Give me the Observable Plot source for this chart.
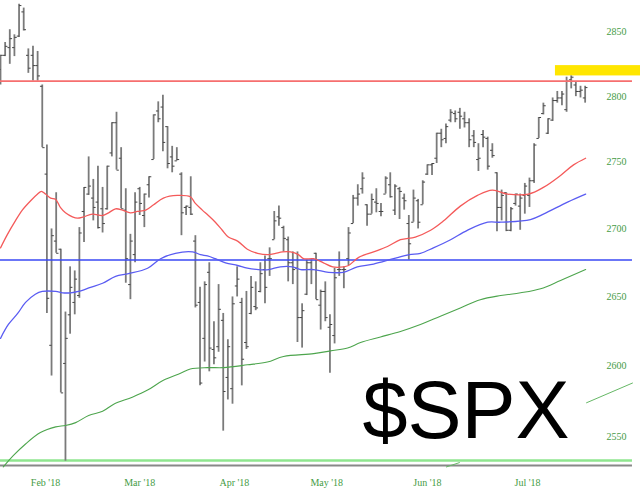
<!DOCTYPE html>
<html><head><meta charset="utf-8">
<style>html,body{margin:0;padding:0;background:#fff}svg{display:block}</style>
<script src="https://cdn.jsdelivr.net/npm/d3@7"></script>
<script src="https://cdn.jsdelivr.net/npm/@observablehq/plot@0.6"></script>
</head><body><div id="chart"></div>
<script>
const highs=[2832,2842,2852,2848,2872,2869,2837,2839,2835,2809,2763,2700,2727,2685,2639,2672,2669,2701,2731,2754,2737,2747,2731,2747,2780,2788,2761,2730,2696,2727,2731,2726,2739,2786,2796,2801,2777,2762,2761,2742,2717,2739,2695,2657,2661,2675,2632,2659,2638,2619,2650,2672,2649,2654,2665,2661,2675,2680,2686,2713,2717,2702,2694,2683,2683,2645,2677,2677,2682,2655,2661,2637,2671,2683,2672,2701,2725,2733,2742,2718,2726,2730,2719,2739,2742,2733,2731,2726,2710,2729,2722,2736,2748,2749,2772,2775,2779,2790,2789,2791,2788,2783,2774,2764,2774,2769,2764,2742,2729,2727,2716,2726,2726,2734,2738,2764,2784,2795,2783,2799,2804,2804,2815,2816,2811,2808,2808];
const lows=[2809,2831,2825,2831,2846,2851,2818,2812,2812,2761,2638,2593,2682,2581,2533,2623,2637,2649,2690,2725,2706,2700,2697,2714,2754,2744,2715,2660,2648,2675,2710,2701,2723,2752,2780,2758,2745,2742,2751,2695,2710,2710,2642,2586,2603,2596,2601,2610,2554,2576,2573,2650,2586,2612,2637,2640,2653,2645,2665,2692,2702,2683,2661,2659,2617,2613,2651,2659,2648,2626,2632,2595,2616,2665,2656,2673,2704,2717,2726,2702,2711,2712,2709,2726,2723,2710,2707,2714,2677,2705,2700,2718,2740,2740,2749,2761,2764,2780,2780,2775,2776,2761,2761,2743,2761,2744,2753,2698,2706,2698,2698,2717,2699,2711,2716,2734,2768,2786,2771,2781,2795,2793,2788,2806,2800,2799,2795];
const opens=[2821,2832,2838,2838,2847,2866,2832,2832,2824,2808,2741,2615,2691,2685,2602,2637,2646,2651,2713,2726,2723,2720,2715,2715,2757,2780,2753,2714,2659,2681,2730,2710,2733,2752,2789,2792,2777,2754,2751,2741,2716,2716,2691,2646,2620,2668,2612,2614,2633,2592,2584,2658,2646,2617,2638,2643,2654,2670,2678,2692,2709,2701,2692,2675,2671,2635,2652,2675,2682,2644,2654,2628,2622,2670,2670,2678,2704,2723,2730,2718,2711,2720,2713,2726,2733,2714,2730,2723,2704,2705,2721,2718,2741,2748,2753,2772,2768,2782,2787,2788,2783,2780,2770,2752,2771,2768,2759,2742,2716,2727,2699,2719,2717,2725,2725,2736,2768,2787,2772,2782,2797,2799,2790,2813,2809,2804,2799];
const closes=[2832,2839,2845,2846,2871,2852,2822,2824,2816,2761,2649,2695,2682,2581,2620,2657,2663,2697,2731,2732,2716,2701,2704,2747,2780,2744,2715,2678,2691,2720,2719,2726,2739,2786,2783,2765,2749,2747,2752,2712,2717,2711,2644,2588,2659,2613,2606,2641,2582,2614,2645,2663,2605,2614,2657,2642,2667,2657,2678,2706,2708,2693,2675,2670,2635,2640,2675,2670,2648,2654,2635,2630,2664,2670,2670,2697,2723,2726,2738,2711,2722,2719,2713,2738,2724,2732,2728,2721,2689,2723,2705,2735,2748,2749,2772,2767,2777,2788,2783,2785,2780,2767,2765,2753,2769,2747,2755,2716,2725,2699,2715,2726,2723,2732,2736,2763,2784,2793,2783,2797,2799,2802,2812,2815,2804,2805,2807];

const redAt=[0,1.5,3.2,4.7,6.5,8,8.8,9.7,10.8,11.9,12.9,14,15.5,16.6,17.9,19.8,22,23.3,24.8,26.3,28,29.5,31.3,33,35.1,38.1,40.9,42,43.5,44.8,46.3,47.8,49.1,51.1,53.2,55.4,57.8,59.3,60.8,62.5,64.2,65.3,67.5,69.6,71.6,73.9,75,77.2,80.4,83.4,86.2,89.4,92.7,95.5,99.1,102.8,106,109.3,113.8,117,120.7,123.5,126.1];
const redMA=[2686,2696,2706,2714,2721,2726,2728,2726,2723,2722,2716,2712,2709,2708,2709,2711,2710,2712,2715,2714,2712,2713,2714,2718,2723,2725,2724,2719,2714,2710,2705,2699,2694,2691,2685,2682,2681,2682,2683,2683,2681,2678,2678,2675,2672,2672,2673,2679,2683,2687,2692,2694,2699,2706,2717,2725,2729,2726,2726,2731,2740,2748,2753];
const blueAt=[0,1.7,3.7,5.4,7.5,9,11.9,13.4,15.1,16.8,19.4,22,24.8,27.6,31.7,34.5,37.7,41.4,43.1,44.6,46.3,48.5,51.1,53.2,55.6,57.8,60.3,62.9,64.7,67.5,70.7,73.9,76.9,80.4,84.7,88.1,90.5,93.3,97,100.6,105,107.8,114.2,117,122.2,126.1];
const blueMA=[2620,2630,2638,2646,2652,2654,2654,2653,2653,2654,2657,2660,2665,2667,2671,2678,2682,2683,2681,2680,2678,2675,2673,2671,2670,2670,2672,2672,2670,2670,2668,2668,2672,2674,2678,2681,2682,2686,2692,2699,2705,2705,2707,2711,2720,2726];
const greenAt=[0.6,2.8,5.4,8.6,11.9,14,16.2,19,22,24.4,28.4,31.7,35.1,38.8,40.9,44.6,48.1,53.2,57.5,61,67.5,71.1,74.8,77.6,81.9,86.2,90.5,94.8,99.1,103.4,107.8,112.1,116.4,120.7,126.1];
const greenMA=[2529,2537,2545,2553,2557,2558,2560,2565,2568,2573,2578,2583,2590,2595,2598,2599,2599,2601,2603,2607,2609,2611,2613,2617,2621,2625,2630,2636,2642,2648,2651,2653,2656,2662,2670];
const trendA=[[96.1,2529],[98.9,2532]];
const trendB=[[126.3,2574],[136.2,2588]];

const yTicks=[2550,2600,2650,2700,2750,2800,2850];
const monthAt=[9.7,30,50.4,70.3,92,113.6];
const monthNames=["Feb '18","Mar '18","Apr '18","May '18","Jun '18","Jul '18"];
const lastIdx=136.2, resistance=2812, support=2677, floorLine=2533.5, baseLine=2530;
const bandTop=2824, bandBottom=2816, bandStart=119.6, bandEnd=137.93;
const title="$SPX";

const idx=highs.map((_,i)=>i);
const zip=(a,b)=>a.map((d,i)=>[d,b[i]]);
const axisFill="#459c45";

const chart=Plot.plot({
  width:640,height:500,marginTop:0,marginRight:0,marginBottom:35,marginLeft:0,
  x:{domain:[0,137.93],axis:null},
  y:{type:"log",domain:[2530,2875],axis:null},
  style:{background:"#fff"},
  marks:[
    Plot.rect([0],{x1:()=>bandStart,x2:()=>bandEnd,y1:()=>bandBottom,y2:()=>bandTop,fill:"#ffe600"}),
    Plot.ruleY([floorLine],{x1:0,x2:lastIdx,stroke:"#8fe68f",strokeWidth:2.6}),
    Plot.ruleY([baseLine],{x1:0,x2:lastIdx,stroke:"#888",strokeWidth:1.8}),
    Plot.line(trendA,{stroke:"#66b866",strokeWidth:1}),
    Plot.line(trendB,{stroke:"#66b866",strokeWidth:1}),
    Plot.ruleX(idx,{x:d=>d,y1:d=>lows[d],y2:d=>highs[d],stroke:"#7a7a7a",strokeWidth:1.8}),
    Plot.link(idx,{x1:d=>d-0.5,x2:d=>d,y1:d=>opens[d],y2:d=>opens[d],stroke:"#444",strokeWidth:1}),
    Plot.link(idx,{x1:d=>d,x2:d=>d+0.5,y1:d=>closes[d],y2:d=>closes[d],stroke:"#444",strokeWidth:1}),
    Plot.ruleY([resistance],{x1:0,x2:lastIdx,stroke:"#f66f6f",strokeWidth:1.7}),
    Plot.ruleY([support],{x1:0,x2:lastIdx,stroke:"#3a48f5",strokeWidth:1.5}),
    Plot.line(zip(greenAt,greenMA),{stroke:"#4da54d",strokeWidth:1.1,curve:"catmull-rom"}),
    Plot.line(zip(blueAt,blueMA),{stroke:"#5a5cf2",strokeWidth:1.3,curve:"catmull-rom"}),
    Plot.line(zip(redAt,redMA),{stroke:"#f45a5a",strokeWidth:1.3,curve:"catmull-rom"}),
    Plot.axisY(yTicks,{anchor:"right",tickSize:0,tickPadding:0,dx:-34,tickFormat:String,fill:axisFill,fontFamily:"Liberation Serif",fontSize:10}),
    Plot.axisX(monthAt,{anchor:"bottom",tickSize:0,tickPadding:13,tickFormat:(d,i)=>monthNames[i],fill:axisFill,fontFamily:"Liberation Serif",fontSize:10}),
    Plot.text([title],{text:d=>d,frameAnchor:"top-left",dx:362,dy:380,textAnchor:"start",lineAnchor:"top",fontFamily:"Liberation Sans",fontSize:81,fill:"#000"})
  ]
});
document.getElementById("chart").append(chart);
</script></body></html>
